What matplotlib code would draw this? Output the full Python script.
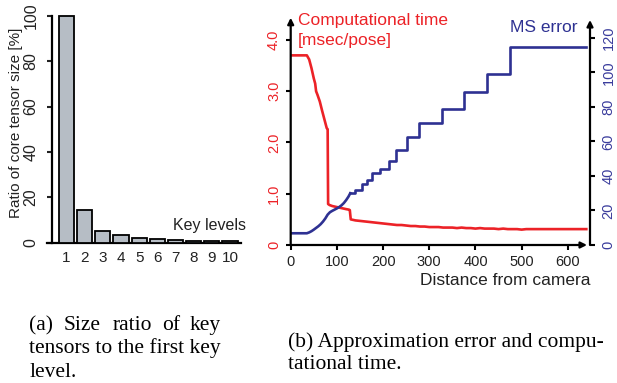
import matplotlib
matplotlib.use('Agg')
import matplotlib.pyplot as plt

plt.rcParams['font.family'] = ['Liberation Sans', 'DejaVu Sans']

# ---------------- data: panel (a) ----------------
key_levels = [1, 2, 3, 4, 5, 6, 7, 8, 9, 10]
key_labels = ['1', '2', '3', '4', '5', '6', '7', '8', '9', '10']
core_ratio = [100, 14.5, 5.3, 3.3, 2.1, 1.5, 1.2, 0.9, 0.8, 0.6]
ratio_ticks = [0, 20, 40, 60, 80, 100]

# ---------------- data: panel (b) ----------------
time_dist = [0, 35, 40, 45, 50, 53, 55, 58, 63, 68, 73, 78, 80, 81, 84, 90,
             100, 110, 120, 126, 128, 130, 135, 140, 150, 160, 170, 180, 190,
             200, 210, 220, 230, 240, 250, 260, 270, 280, 290, 300, 310, 320,
             330, 340, 350, 360, 370, 380, 390, 400, 410, 420, 430, 440, 450,
             460, 470, 480, 490, 500, 510, 520, 530, 540, 550, 560, 570, 580,
             590, 600, 610, 620, 630, 640]
time_ms = [3.70, 3.70, 3.62, 3.45, 3.25, 3.15, 3.00, 2.93, 2.80, 2.62, 2.45,
           2.28, 2.26, 0.80, 0.78, 0.76, 0.74, 0.72, 0.70, 0.69, 0.68, 0.50,
           0.49, 0.48, 0.47, 0.46, 0.45, 0.44, 0.43, 0.42, 0.41, 0.40, 0.39,
           0.39, 0.38, 0.37, 0.37, 0.36, 0.36, 0.35, 0.35, 0.35, 0.34, 0.34,
           0.34, 0.33, 0.34, 0.33, 0.33, 0.32, 0.33, 0.32, 0.32, 0.32, 0.31,
           0.32, 0.31, 0.31, 0.31, 0.30, 0.31, 0.31, 0.31, 0.31, 0.31, 0.31,
           0.31, 0.31, 0.31, 0.31, 0.31, 0.31, 0.31, 0.31]

err_curve_dist = [0, 35, 40, 45, 50, 55, 60, 65, 70, 75, 80, 85, 90, 95, 100,
                  105, 110, 115, 120, 125, 129]
err_curve = [6.8, 6.8, 7.3, 8.0, 8.9, 9.9, 10.9, 12.1, 13.6, 15.4, 17.6, 19.0,
             19.8, 20.5, 21.2, 22.0, 23.0, 24.3, 26.0, 28.0, 30.0]
err_step_dist = [129, 140, 154, 165, 176, 194, 212, 227, 252, 277, 327, 375,
                 425, 475, 640]
err_step = [30.0, 31.9, 35.6, 37.7, 41.5, 43.9, 48.9, 55.0, 62.4, 70.5, 78.7,
            88.9, 99.1, 114.6, 114.6]

dist_ticks = [0, 100, 200, 300, 400, 500, 600]
time_ticks = [0, 1, 2, 3, 4]
time_tick_labels = ['0', '1.0', '2.0', '3.0', '4.0']
err_ticks = [0, 20, 40, 60, 80, 100, 120]

RED = '#EC2227'
BLUE = '#2E3192'
BLUE_TXT = '#3A3C9C'
BAR = '#B6BDC5'

W, H = 617, 383
fig = plt.figure(figsize=(W / 100, H / 100), dpi=100)


def box(l, t, r, b):
    return [l / W, 1 - b / H, (r - l) / W, (b - t) / H]


# ---------------- panel (a) ----------------
axA = fig.add_axes(box(46.7, 15.7, 240.7, 242.7))
axA.bar(key_levels, core_ratio, width=0.83, color=BAR, edgecolor='black',
        linewidth=1.3, clip_on=False, zorder=3)
axA.set_xlim(-0.09, 10.587)
axA.set_ylim(0, 100)
for s in ['top', 'right']:
    axA.spines[s].set_visible(False)
axA.spines['left'].set_position(('data', 0.1855))
axA.spines['left'].set_linewidth(1.6)
axA.spines['bottom'].set_linewidth(1.6)
axA.set_yticks(ratio_ticks)
axA.set_yticklabels([str(v) for v in ratio_ticks], rotation=90, va='center')
axA.set_xticks(key_levels)
axA.set_xticklabels(key_labels)
axA.tick_params(axis='y', direction='out', length=3.6, width=1.5,
                labelsize=11.5, pad=6.0, colors='#222222')
axA.tick_params(axis='x', length=0, labelsize=11, pad=6.0,
                colors='#222222')
fig.text(16 / W, 1 - 122.7 / H, 'Ratio of core tensor size [%]',
         rotation=90, ha='center', va='center', fontsize=11, color='#222222')
fig.text(172.7 / W, 1 - 230 / H, 'Key levels', ha='left', va='baseline',
         fontsize=11.5, color='#222222')

# ---------------- panel (b) ----------------
axB = fig.add_axes(box(290.7, 20, 590, 245))
axB.plot(time_dist, time_ms, color=RED, lw=1.9, zorder=3)
axB.set_xlim(0, 648)
axB.set_ylim(0, 4.39)
axB.set_xticks(dist_ticks)
axB.set_yticks(time_ticks)
axB.set_yticklabels(time_tick_labels, rotation=90, va='center')
axB.tick_params(axis='y', direction='out', length=3.6, width=1.5,
                labelsize=10.5, pad=3.4, colors='black', labelcolor=RED)
axB.tick_params(axis='x', direction='out', length=3.6, width=1.5,
                labelsize=10.5, pad=3.4, colors='black', labelcolor='#222222')

axB2 = axB.twinx()
axB2.plot(err_curve_dist, err_curve, color=BLUE, lw=1.9)
axB2.step(err_step_dist, err_step, where='post', color=BLUE, lw=1.9)
axB2.set_ylim(0, 130.4)
axB2.set_yticks(err_ticks)
axB2.set_yticklabels([str(v) for v in err_ticks], rotation=90, va='center')
axB2.tick_params(axis='y', direction='out', length=3.6, width=1.5,
                 labelsize=10.5, pad=4.6, colors='black', labelcolor=BLUE_TXT)

for a in (axB, axB2):
    for s in a.spines.values():
        s.set_visible(False)

arrow = dict(arrowstyle='-|>', lw=1.6, color='black', mutation_scale=9,
             shrinkA=0, shrinkB=0)
axB2.annotate('', xy=(0, 1.01), xytext=(0, 0), xycoords='axes fraction',
              arrowprops=arrow, annotation_clip=False)
axB2.annotate('', xy=(1, 1.0), xytext=(1, 0), xycoords='axes fraction',
              arrowprops=arrow, annotation_clip=False)
axB2.annotate('', xy=(0.99, 0), xytext=(0, 0), xycoords='axes fraction',
              arrowprops=arrow, annotation_clip=False)

fig.text(298 / W, 1 - 25 / H, 'Computational time', ha='left', va='baseline',
         fontsize=12.5, color=RED)
fig.text(298 / W, 1 - 45 / H, '[msec/pose]', ha='left', va='baseline',
         fontsize=12.5, color=RED)
fig.text(510 / W, 1 - 31.7 / H, 'MS error', ha='left', va='baseline',
         fontsize=12.5, color=BLUE)
fig.text(590 / W, 1 - 285 / H, 'Distance from camera', ha='right',
         va='baseline', fontsize=12.5, color='#222222')

# ---------------- captions ----------------
cap = dict(fontsize=15.5, family=['Liberation Serif', 'DejaVu Serif'],
           va='baseline', color='black')
fig.text(29.3 / W, 1 - 330 / H, '(a)', ha='left', **cap)
fig.text(63.3 / W, 1 - 330 / H, 'Size', ha='left', **cap)
fig.text(112.3 / W, 1 - 330 / H, 'ratio', ha='left', **cap)
fig.text(162.3 / W, 1 - 330 / H, 'of', ha='left', **cap)
fig.text(220.7 / W, 1 - 330 / H, 'key', ha='right', **cap)
fig.text(29.3 / W, 1 - 353 / H, 'tensors to the first key', ha='left', **cap)
fig.text(29.3 / W, 1 - 376.7 / H, 'level.', ha='left', **cap)
fig.text(288.3 / W, 1 - 346.7 / H, '(b) Approximation error and compu-',
         ha='left', **cap)
fig.text(288.3 / W, 1 - 369 / H, 'tational time.', ha='left', **cap)

fig.savefig('out.png', dpi=100)
